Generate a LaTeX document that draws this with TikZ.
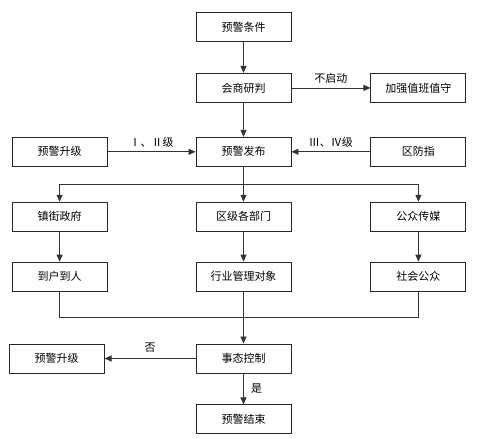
\documentclass[tikz,border=0pt]{standalone}
\usepackage{fontspec}
\newfontfamily\cjk{Noto Sans CJK SC}
\usetikzlibrary{arrows.meta,positioning,calc}

\begin{document}
\begin{tikzpicture}[>={Triangle[length=7pt,width=6pt]},
  font=\cjk\fontsize{11}{13}\selectfont,
  line/.style={draw=black!80,line width=0.8pt},
  box/.style={draw=black!85,line width=0.9pt,minimum width=95pt,
              minimum height=29pt,inner sep=2pt}]
\useasboundingbox (0pt,0pt) rectangle (483pt,-439pt);
% top column
\node[box] (cond) at (243.5pt,-27pt) {预警条件};
\node[box,below=31pt of cond] (judge) {会商研判};
\node[box,right=79pt of judge] (duty) {加强值班值守};
\node[box,below=34pt of judge] (issue) {预警发布};
\node[box,left=88pt of issue] (upA) {预警升级};
\node[box,right=79pt of issue] (cmd) {区防指};
% three channels
\node[box,below=35pt of upA] (town) {镇街政府};
\node[box,below=35pt of issue] (dept) {区级各部门};
\node[box,below=35pt of cmd] (media) {公众传媒};
\node[box,below=30pt of town] (home) {到户到人};
\node[box,below=30pt of dept] (target) {行业管理对象};
\node[box,below=30pt of media] (public) {社会公众};
% control
\node[box,below=52pt of target] (ctrl) {事态控制};
\node[box,left=91pt of ctrl] (upB) {预警升级};
\node[box,below=31pt of ctrl] (end) {预警结束};
\coordinate (split) at ($(issue.south)!.5!(dept.north)$);
\coordinate (join) at ($(target.south)!.5!(ctrl.north)$);

\draw[line,->] (cond) -- (judge);
\draw[line,->] (judge) -- node[above=1pt] {不启动} (duty);
\draw[line,->] (judge) -- (issue);
\draw[line,->] (upA) -- node[above=1pt] {Ⅰ、Ⅱ级} (issue);
\draw[line,->] (cmd) -- node[above=1pt] {Ⅲ、Ⅳ级} (issue);
\draw[line,->] (issue) -- (dept);
\draw[line,->] (split) -| (town);
\draw[line,->] (split) -| (media);
\draw[line,->] (town) -- (home);
\draw[line,->] (dept) -- (target);
\draw[line,->] (media) -- (public);
\draw[line] (home.south) |- (join);
\draw[line] (public.south) |- (join);
\draw[line,->] (target) -- (ctrl);
\draw[line,->] (ctrl) -- node[above=2pt] {否} (upB);
\draw[line,->] (ctrl) -- node[right=4pt] {是} (end);
\end{tikzpicture}
\end{document}
